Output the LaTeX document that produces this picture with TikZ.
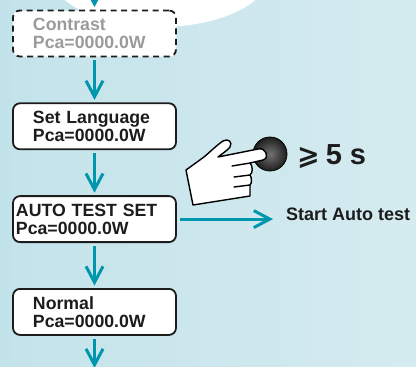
\documentclass[tikz,border=0pt]{standalone}
\usepackage{fontspec}
\setmainfont{Liberation Sans}
\newfontfamily\symfont{DejaVu Sans}
\usetikzlibrary{positioning,arrows.meta}
\definecolor{flowteal}{RGB}{0,150,174}
\definecolor{bgleft}{RGB}{195,227,234}
\definecolor{bgright}{RGB}{213,235,240}
\definecolor{ink}{RGB}{28,28,28}
\definecolor{dimtext}{RGB}{155,155,155}
\begin{document}
\begin{tikzpicture}[x=1pt,y=-1pt,
  lcd/.style={draw=ink,line width=1.8pt,fill=white,rounded corners=7pt,
    minimum height=46pt,text width=123pt,inner xsep=20pt,align=left,text=ink,
    font=\fontsize{17.7}{18}\selectfont\bfseries},
  lcdwide/.style={lcd,text width=157pt,inner xsep=3pt},
  lcddim/.style={lcd,dash pattern=on 6pt off 4.5pt,text=dimtext},
  flow/.style={draw=flowteal,line width=3pt,
    -{Straight Barb[length=16pt,width=17pt,line width=3pt]},
    shorten <=3pt,shorten >=2.5pt},
  node distance=45pt]
\clip (0,0) rectangle (416,367);
\fill[left color=bgleft,right color=bgright] (0,0) rectangle (416,367);
\fill[white] (160,-27) ellipse [x radius=110,y radius=54];

\node[lcddim] (contrast) at (94.5,33.5) {Contrast\\Pca=0000.0W};
\node[lcd,below=of contrast] (language) {Set Language\\Pca=0000.0W};
\node[lcdwide,below=of language] (autotest) {AUTO TEST SET\\Pca=0000.0W};
\node[lcd,below=of autotest] (normal) {Normal\\Pca=0000.0W};

\coordinate (from) at (94.5,-30);
\coordinate (to) at (94.5,370.5);
\draw[flow] (from) -- (contrast);
\draw[flow] (contrast) -- (language);
\draw[flow] (language) -- (autotest);
\draw[flow] (autotest) -- (normal);
\draw[flow] (normal) -- (to);

\node[anchor=base west,inner sep=0pt,text=ink,font=\fontsize{18}{18}\selectfont\bfseries]
  (start) at (286,220.7) {Start Auto test};
\draw[flow,shorten >=13pt] (autotest.east) -- (autotest.east -| start.west);

% push button and the hand pressing it
\node[circle,draw=black,line width=0.8pt,minimum size=34pt,
  inner color=black!55,outer color=black!88] (button) at (270,154) {};
\filldraw[fill=white,draw=black,line width=1.4pt,line join=round]
  (186,170) -- (204,157)
  .. controls (211,151) and (217,145) .. (223,141)
  .. controls (228,138) and (233,142) .. (230,147)
  .. controls (228,150) and (223,153) .. (218,157)
  -- (258,149)
  .. controls (266,147) and (270,158) .. (263,160)
  -- (250,163)
  .. controls (253,166) and (253,173) .. (250,175)
  .. controls (252,178) and (252,183) .. (250,185)
  -- (250,196) -- (193,205) -- cycle;
\draw[black,line width=1.4pt,line cap=round]
  (250,163) -- (232,166)
  (250,175) -- (234,177)
  (250,185) -- (234,187);

\node[anchor=base west,inner sep=0pt,text=ink,font=\fontsize{29}{30}\selectfont\bfseries]
  (hold) at (297,164.3) {{\symfont\bfseries\fontsize{27}{27}\selectfont ⩾}\hspace{6pt}5 s};
\end{tikzpicture}
\end{document}
